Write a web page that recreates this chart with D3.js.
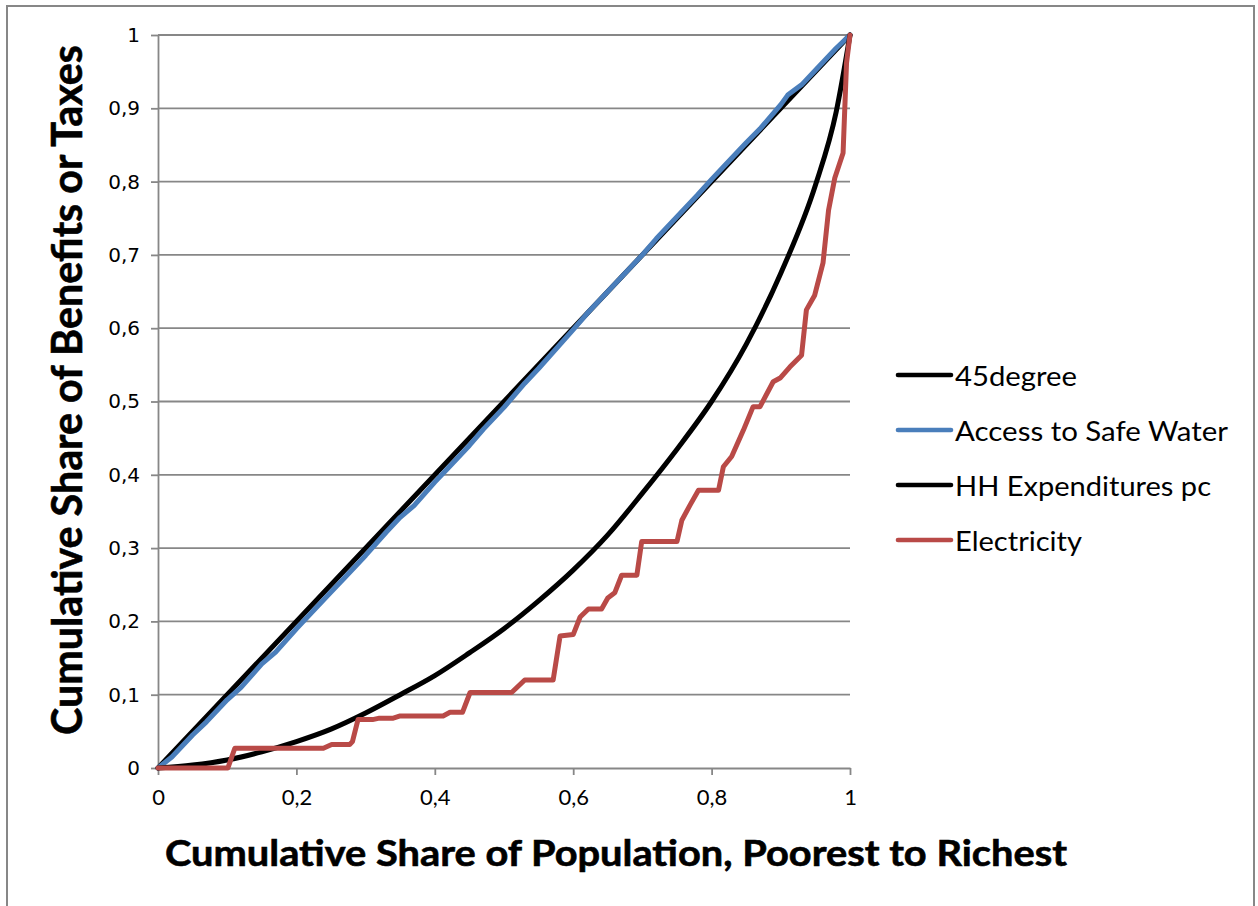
<!DOCTYPE html>
<html>
<head>
<meta charset="utf-8">
<script src="https://cdn.jsdelivr.net/npm/d3@7"></script>
<style>
  html, body { margin: 0; padding: 0; background: #fff; }
  svg { display: block; }
</style>
</head>
<body>
<svg id="chart" width="1258" height="906"></svg>
<script>
// Concentration curves: cumulative share of benefits vs. cumulative population share
const yTicks = [0, 0.1, 0.2, 0.3, 0.4, 0.5, 0.6, 0.7, 0.8, 0.9, 1];
const yTickLabels = ["0", "0,1", "0,2", "0,3", "0,4", "0,5", "0,6", "0,7", "0,8", "0,9", "1"];
const xTicks = [0, 0.2, 0.4, 0.6, 0.8, 1];
const xTickLabels = ["0", "0,2", "0,4", "0,6", "0,8", "1"];

const seriesNames = ["45degree", "Access to Safe Water", "HH Expenditures pc", "Electricity"];
const seriesColors = ["#000000", "#4a7ebb", "#000000", "#b94a47"];

const degree45X = [0, 1];
const degree45Y = [0, 1];

const waterX = [0, 0.02, 0.05, 0.07, 0.1, 0.12, 0.15, 0.17, 0.2, 0.22, 0.25, 0.27, 0.3, 0.33, 0.35, 0.37,
  0.4, 0.42, 0.45, 0.47, 0.5, 0.53, 0.55, 0.6, 0.62, 0.65, 0.7, 0.72, 0.75, 0.78, 0.8, 0.82, 0.85,
  0.87, 0.9, 0.91, 0.93, 0.95, 0.98, 1];
const waterY = [0, 0.015, 0.045, 0.063, 0.093, 0.11, 0.142, 0.158, 0.19, 0.21, 0.24, 0.26, 0.29, 0.322,
  0.342, 0.358, 0.39, 0.41, 0.44, 0.462, 0.492, 0.525, 0.545, 0.598, 0.62, 0.65, 0.7, 0.722, 0.752,
  0.782, 0.803, 0.823, 0.853, 0.872, 0.905, 0.918, 0.932, 0.952, 0.982, 1];

const hhX = [0, 0.05, 0.1, 0.15, 0.2, 0.25, 0.3, 0.35, 0.4, 0.45, 0.5, 0.55, 0.6, 0.65, 0.7, 0.75,
  0.8, 0.85, 0.9, 0.95, 0.98, 1];
const hhY = [0, 0.004, 0.011, 0.022, 0.036, 0.053, 0.075, 0.1, 0.126, 0.157, 0.19, 0.228, 0.27, 0.318,
  0.375, 0.435, 0.5, 0.578, 0.675, 0.795, 0.895, 1];

const elecX = [0, 0.101, 0.111, 0.239, 0.251, 0.277, 0.281, 0.289, 0.31, 0.32, 0.34, 0.35, 0.412, 0.422,
  0.44, 0.451, 0.511, 0.53, 0.571, 0.581, 0.6, 0.61, 0.622, 0.641, 0.65, 0.66, 0.67, 0.692, 0.699,
  0.75, 0.757, 0.769, 0.781, 0.81, 0.817, 0.829, 0.846, 0.86, 0.87, 0.889, 0.899, 0.913, 0.93, 0.937,
  0.949, 0.961, 0.969, 0.978, 0.99, 0.995, 1];
const elecY = [0, 0, 0.027, 0.027, 0.032, 0.032, 0.036, 0.066, 0.066, 0.068, 0.068, 0.071, 0.071, 0.076,
  0.076, 0.103, 0.103, 0.12, 0.12, 0.18, 0.182, 0.206, 0.217, 0.217, 0.232, 0.239, 0.263, 0.263, 0.309,
  0.309, 0.338, 0.359, 0.379, 0.379, 0.411, 0.425, 0.461, 0.493, 0.493, 0.527, 0.532, 0.547, 0.563,
  0.625, 0.645, 0.689, 0.761, 0.805, 0.839, 0.962, 1];

const seriesData = [
  { name: seriesNames[0], color: seriesColors[0], xs: degree45X, ys: degree45Y, smooth: false },
  { name: seriesNames[1], color: seriesColors[1], xs: waterX, ys: waterY, smooth: false },
  { name: seriesNames[2], color: seriesColors[2], xs: hhX, ys: hhY, smooth: true },
  { name: seriesNames[3], color: seriesColors[3], xs: elecX, ys: elecY, smooth: false }
];

const svg = d3.select("#chart");
const gridColor = "#878787";

// outer chart frame
svg.append("rect")
  .attr("x", 7).attr("y", 6).attr("width", 1247).attr("height", 960)
  .attr("fill", "none").attr("stroke", gridColor).attr("stroke-width", 2);

const plot = { left: 158, right: 850, top: 35, bottom: 768 };
const x = d3.scaleLinear().domain([0, 1]).range([plot.left, plot.right]);
const y = d3.scaleLinear().domain([0, 1]).range([plot.bottom, plot.top]);

// horizontal gridlines
svg.append("g")
  .selectAll("line")
  .data(yTicks.filter(d => d > 0))
  .join("line")
  .attr("x1", plot.left).attr("x2", plot.right)
  .attr("y1", d => y(d)).attr("y2", d => y(d))
  .attr("stroke", gridColor).attr("stroke-width", 1.8);

// y axis
const yAxis = svg.append("g")
  .attr("transform", `translate(${plot.left},0)`)
  .call(d3.axisLeft(y).tickValues(yTicks)
    .tickFormat((d, i) => yTickLabels[i]).tickSize(7).tickSizeOuter(0).tickPadding(11));
yAxis.select(".domain").attr("stroke", gridColor).attr("stroke-width", 1.8);
yAxis.selectAll(".tick line").attr("stroke", gridColor).attr("stroke-width", 1.8);
yAxis.selectAll(".tick text")
  .attr("font-family", "DejaVu Sans, Verdana, sans-serif")
  .attr("font-size", 20).attr("fill", "#000");

// x axis
const xAxis = svg.append("g")
  .attr("transform", `translate(0,${plot.bottom})`)
  .call(d3.axisBottom(x).tickValues(xTicks)
    .tickFormat((d, i) => xTickLabels[i]).tickSize(7).tickSizeOuter(0).tickPadding(14));
xAxis.select(".domain").attr("stroke", gridColor).attr("stroke-width", 1.8);
xAxis.selectAll(".tick line").attr("stroke", gridColor).attr("stroke-width", 1.8);
xAxis.selectAll(".tick text")
  .attr("font-family", "Lato, 'Open Sans', sans-serif")
  .attr("font-size", 22).attr("fill", "#000");

// series lines
const lineFor = s => d3.line()
  .x((d, i) => x(s.xs[i]))
  .y((d, i) => y(s.ys[i]))
  .curve(s.smooth ? d3.curveMonotoneX : d3.curveLinear);

svg.append("g")
  .selectAll("path")
  .data(seriesData)
  .join("path")
  .attr("d", s => lineFor(s)(s.xs))
  .attr("fill", "none")
  .attr("stroke", s => s.color)
  .attr("stroke-width", 5)
  .attr("stroke-linejoin", "round")
  .attr("stroke-linecap", "round");

// axis titles
svg.append("text")
  .attr("x", 165).attr("y", 866)
  .attr("font-family", "Lato, 'Open Sans', sans-serif")
  .attr("font-weight", "bold").attr("font-size", 36)
  .attr("stroke", "#000").attr("stroke-width", 0.6)
  .attr("textLength", 902).attr("lengthAdjust", "spacingAndGlyphs")
  .text("Cumulative Share of Population, Poorest to Richest");

svg.append("text")
  .attr("transform", "translate(82,735) rotate(-90)")
  .attr("x", 0).attr("y", 0)
  .attr("font-family", "Lato, 'Open Sans', sans-serif")
  .attr("font-weight", "bold").attr("font-size", 42)
  .attr("stroke", "#000").attr("stroke-width", 0.6)
  .attr("textLength", 690).attr("lengthAdjust", "spacingAndGlyphs")
  .text("Cumulative Share of Benefits or Taxes");

// legend
const legendLineY = [375, 430, 485, 540];
const legendTextWidths = [122, 273, 256, 127];
const legend = svg.append("g");
const items = legend.selectAll("g")
  .data(seriesData)
  .join("g")
  .attr("transform", (d, i) => `translate(0,${legendLineY[i]})`);
items.append("line")
  .attr("x1", 898).attr("x2", 951).attr("y1", 0).attr("y2", 0)
  .attr("stroke", d => d.color).attr("stroke-width", 4.6).attr("stroke-linecap", "round");
items.append("text")
  .attr("x", 955).attr("y", 10.5)
  .attr("font-family", "Lato, 'Open Sans', sans-serif")
  .attr("font-size", 26).attr("fill", "#000")
  .attr("textLength", (d, i) => legendTextWidths[i]).attr("lengthAdjust", "spacingAndGlyphs")
  .text(d => d.name);
</script>
</body>
</html>
